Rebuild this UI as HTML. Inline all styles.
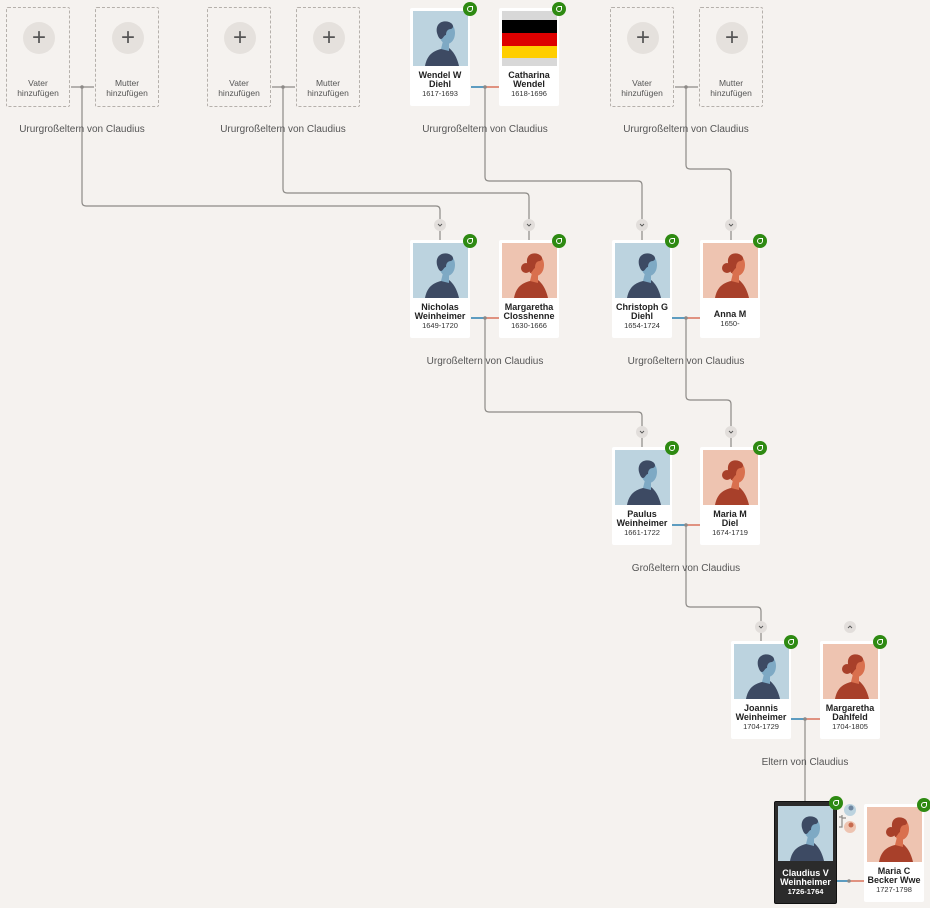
<!DOCTYPE html>
<html><head><meta charset="utf-8"><style>
*{margin:0;padding:0;box-sizing:border-box}
body{width:930px;height:908px;background:#f5f2ef;position:relative;overflow:hidden;font-family:"Liberation Sans",sans-serif}
.c{position:absolute;width:60px;height:98px;background:#fff;border-radius:2px}
.c svg.p{position:absolute;left:3px;top:3px;width:55px;height:55px}
.c .t{position:absolute;left:-3px;right:-3px;top:63px;text-align:center;font-size:9px;line-height:9px;color:#222}
.c .t b{font-weight:bold;display:block}
.c .t span{font-size:7.5px;color:#333}
.bd{position:absolute;width:14px;height:14px;border-radius:7px;background:#2e8a12;right:-7px;top:-6px}
.bd:after{content:"";position:absolute;left:4px;top:4px;width:4px;height:4px;border:1.5px solid #fff;border-radius:50% 0 50% 50%}
.ph{position:absolute;width:64px;height:100px;border:1px dashed #b5b0ab;border-radius:2px}
.ph .pl{position:absolute;left:16px;top:14px;width:32px;height:32px;border-radius:16px;background:#e5e1dd;color:#555;font-size:24px;line-height:31px;text-align:center;font-weight:300}
.ph .t{position:absolute;left:0;right:0;top:70px;text-align:center;font-size:8.5px;line-height:10px;color:#555}
.lb{position:absolute;font-size:10px;color:#555;width:200px;text-align:center;background:transparent}
.dark{background:#2b2b2b;border:1px solid #111}
.dark .t{color:#fff}
.dark .t span{color:#fff}
</style></head><body>
<svg width="930" height="908" style="position:absolute;left:0;top:0">
<defs>
<symbol id="m" viewBox="0 0 55 55"><rect width="55" height="55" fill="#bcd3df"/><path d="M12 55 C14 44 20 40 28 38 L36 37 C40 40 44 46 46 55 Z" fill="#3d4a63"/><path d="M28 38 L30 30 L36 30 L36 40 Z" fill="#7ea9c4"/><ellipse cx="34" cy="22" rx="8" ry="11" fill="#7ea9c4"/><path d="M24 22 C22 12 30 9 36 11 C41 13 41 17 38 18 C35 18 33 20 33 24 C31 24 30 28 28 28 C26 28 25 25 24 22Z" fill="#3d4a63"/></symbol>
<symbol id="f" viewBox="0 0 55 55"><rect width="55" height="55" fill="#eec4b1"/><path d="M12 55 C14 44 20 40 28 38 L36 37 C40 40 44 46 46 55 Z" fill="#a8402a"/><path d="M28 38 L30 30 L36 30 L36 40 Z" fill="#d9704e"/><ellipse cx="34" cy="22" rx="8" ry="11" fill="#d9704e"/><path d="M26 24 C22 12 30 9 36 11 C41 13 41 17 38 18 C35 18 33 20 33 25 C31 26 30 30 28 30 Z" fill="#a8402a"/><circle cx="24" cy="25" r="5" fill="#a8402a"/></symbol>
</defs>
<g fill="none" stroke="#8d8a87" stroke-width="1.2">
<path d="M82 87 V202 Q82 206 86 206 H436 Q440 206 440 210 V240"/>
<path d="M283 87 V189 Q283 193 287 193 H525 Q529 193 529 197 V240"/>
<path d="M485 87 V177 Q485 181 489 181 H638 Q642 181 642 185 V240"/>
<path d="M686 87 V165 Q686 169 690 169 H727 Q731 169 731 173 V240"/>
<path d="M485 318 V408 Q485 412 489 412 H638 Q642 412 642 416 V447"/>
<path d="M686 318 V396 Q686 400 690 400 H727 Q731 400 731 404 V447"/>
<path d="M686 525 V603 Q686 607 690 607 H757 Q761 607 761 611 V641"/>
<path d="M805 719 V802"/>
<path d="M71 87 H94"/><path d="M272 87 H295"/><path d="M675 87 H698"/>
<path d="M839 817 H842 V815 M839 827 H842 V815 M842 818 H846"/>
</g>
<g stroke-width="1.5">
<path d="M471 87 H485" stroke="#2a7fb0"/><path d="M485 87 H499" stroke="#d9735a"/>
<path d="M471 318 H485" stroke="#2a7fb0"/><path d="M485 318 H499" stroke="#d9735a"/>
<path d="M672 318 H686" stroke="#2a7fb0"/><path d="M686 318 H700" stroke="#d9735a"/>
<path d="M672 525 H686" stroke="#2a7fb0"/><path d="M686 525 H700" stroke="#d9735a"/>
<path d="M791 719 H805" stroke="#2a7fb0"/><path d="M805 719 H820" stroke="#d9735a"/>
<path d="M837 881 H849" stroke="#2a7fb0"/><path d="M849 881 H864" stroke="#d9735a"/>
</g>
<g fill="#8d8a87"><circle cx="82" cy="87" r="1.8"/><circle cx="283" cy="87" r="1.8"/><circle cx="485" cy="87" r="1.8"/><circle cx="686" cy="87" r="1.8"/><circle cx="485" cy="318" r="1.8"/><circle cx="686" cy="318" r="1.8"/><circle cx="686" cy="525" r="1.8"/><circle cx="805" cy="719" r="1.8"/><circle cx="849" cy="881" r="1.8"/></g>
<g fill="#e2dedb" stroke="#555" stroke-width="0.9">
<circle cx="440" cy="225" r="6" stroke="none"/><circle cx="529" cy="225" r="6" stroke="none"/><circle cx="642" cy="225" r="6" stroke="none"/><circle cx="731" cy="225" r="6" stroke="none"/>
<circle cx="642" cy="432" r="6" stroke="none"/><circle cx="731" cy="432" r="6" stroke="none"/>
<circle cx="761" cy="627" r="6" stroke="none"/><circle cx="850" cy="627" r="6" stroke="none"/>
<path fill="none" d="M438 224 l2 2 l2 -2 M527 224 l2 2 l2 -2 M640 224 l2 2 l2 -2 M729 224 l2 2 l2 -2 M640 431 l2 2 l2 -2 M729 431 l2 2 l2 -2 M759 626 l2 2 l2 -2 M848 628 l2 -2 l2 2"/>
</g>
<circle cx="850" cy="810" r="6" fill="#bcd3df"/><circle cx="850" cy="827" r="6" fill="#eec4b1"/>
<circle cx="851" cy="808" r="2.5" fill="#6e86a0"/><circle cx="851" cy="825" r="2.5" fill="#c76a4e"/>
</svg>

<div class="ph" style="left:6px;top:7px"><div class="pl">+</div><div class="t">Vater<br>hinzufügen</div></div>
<div class="ph" style="left:95px;top:7px"><div class="pl">+</div><div class="t">Mutter<br>hinzufügen</div></div>
<div class="ph" style="left:207px;top:7px"><div class="pl">+</div><div class="t">Vater<br>hinzufügen</div></div>
<div class="ph" style="left:296px;top:7px"><div class="pl">+</div><div class="t">Mutter<br>hinzufügen</div></div>
<div class="ph" style="left:610px;top:7px"><div class="pl">+</div><div class="t">Vater<br>hinzufügen</div></div>
<div class="ph" style="left:699px;top:7px"><div class="pl">+</div><div class="t">Mutter<br>hinzufügen</div></div>

<div class="c" style="left:410px;top:8px"><svg class="p"><use href="#m"/></svg><div class="t"><b>Wendel W<br>Diehl</b><span>1617-1693</span></div><div class="bd"></div></div>
<div class="c" style="left:499px;top:8px"><svg class="p" viewBox="0 0 55 55"><rect width="55" height="55" fill="#d8d8d8"/><rect y="9" width="55" height="13" fill="#000"/><rect y="22" width="55" height="13" fill="#dd0000"/><rect y="35" width="55" height="12" fill="#ffce00"/></svg><div class="t"><b>Catharina<br>Wendel</b><span>1618-1696</span></div><div class="bd"></div></div>

<div class="c" style="left:410px;top:240px"><svg class="p"><use href="#m"/></svg><div class="t"><b>Nicholas<br>Weinheimer</b><span>1649-1720</span></div><div class="bd"></div></div>
<div class="c" style="left:499px;top:240px"><svg class="p"><use href="#f"/></svg><div class="t"><b>Margaretha<br>Closshenne</b><span>1630-1666</span></div><div class="bd"></div></div>
<div class="c" style="left:612px;top:240px"><svg class="p"><use href="#m"/></svg><div class="t"><b>Christoph G<br>Diehl</b><span>1654-1724</span></div><div class="bd"></div></div>
<div class="c" style="left:700px;top:240px"><svg class="p"><use href="#f"/></svg><div class="t" style="top:70px"><b>Anna M</b><span>1650-</span></div><div class="bd"></div></div>

<div class="c" style="left:612px;top:447px"><svg class="p"><use href="#m"/></svg><div class="t"><b>Paulus<br>Weinheimer</b><span>1661-1722</span></div><div class="bd"></div></div>
<div class="c" style="left:700px;top:447px"><svg class="p"><use href="#f"/></svg><div class="t"><b>Maria M<br>Diel</b><span>1674-1719</span></div><div class="bd"></div></div>

<div class="c" style="left:731px;top:641px"><svg class="p"><use href="#m"/></svg><div class="t"><b>Joannis<br>Weinheimer</b><span>1704-1729</span></div><div class="bd"></div></div>
<div class="c" style="left:820px;top:641px"><svg class="p"><use href="#f"/></svg><div class="t"><b>Margaretha<br>Dahlfeld</b><span>1704-1805</span></div><div class="bd"></div></div>

<div class="c dark" style="left:774px;top:801px;width:63px;height:103px"><svg class="p" style="left:3px;top:4px"><use href="#m"/></svg><div class="t" style="top:67px"><b>Claudius V<br>Weinheimer</b><span style="font-weight:bold">1726-1764</span></div><div class="bd"></div></div>
<div class="c" style="left:864px;top:804px"><svg class="p"><use href="#f"/></svg><div class="t"><b>Maria C<br>Becker Wwe</b><span>1727-1798</span></div><div class="bd"></div></div>

<div class="lb" style="left:-18px;top:124px">Ururgroßeltern von Claudius</div>
<div class="lb" style="left:183px;top:124px">Ururgroßeltern von Claudius</div>
<div class="lb" style="left:385px;top:124px">Ururgroßeltern von Claudius</div>
<div class="lb" style="left:586px;top:124px">Ururgroßeltern von Claudius</div>
<div class="lb" style="left:385px;top:356px">Urgroßeltern von Claudius</div>
<div class="lb" style="left:586px;top:356px">Urgroßeltern von Claudius</div>
<div class="lb" style="left:586px;top:563px">Großeltern von Claudius</div>
<div class="lb" style="left:705px;top:757px">Eltern von Claudius</div>
</body></html>
